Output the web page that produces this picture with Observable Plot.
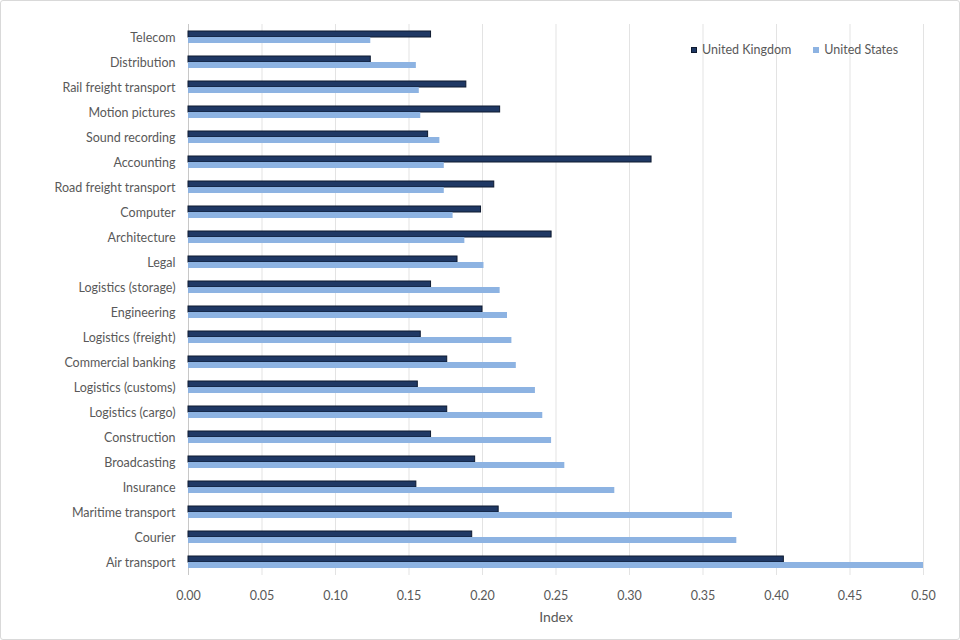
<!DOCTYPE html>
<html>
<head>
<meta charset="utf-8">
<script src="https://cdn.jsdelivr.net/npm/d3@7"></script>
<script src="https://cdn.jsdelivr.net/npm/@observablehq/plot@0.6"></script>
<style>
  html, body { margin: 0; padding: 0; background: #fff; }
  #wrap { position: relative; width: 960px; height: 640px; }
  #frame { position: absolute; left: 0; top: 0; width: 958px; height: 638px; border: 1px solid #d9d9d9; border-radius: 3px; pointer-events: none; }
  #legend { position: absolute; left: 691px; top: 42px; font: 12.5px Lato, "Open Sans", sans-serif; color: #595959; display: flex; gap: 22px; align-items: center; }
  #legend .item { display: flex; align-items: center; gap: 5px; }
  #legend .sw { width: 6px; height: 6px; box-sizing: border-box; }
</style>
</head>
<body>
<div id="wrap"><div id="chart"></div><div id="legend"></div><div id="frame"></div></div>
<script>
const categories = ["Telecom","Distribution","Rail freight transport","Motion pictures","Sound recording","Accounting","Road freight transport","Computer","Architecture","Legal","Logistics (storage)","Engineering","Logistics (freight)","Commercial banking","Logistics (customs)","Logistics (cargo)","Construction","Broadcasting","Insurance","Maritime transport","Courier","Air transport"];
const series = ["United Kingdom","United States"];
const ukValues = [0.165,0.124,0.189,0.212,0.163,0.315,0.208,0.199,0.247,0.183,0.165,0.200,0.158,0.176,0.156,0.176,0.165,0.195,0.155,0.211,0.193,0.405];
const usValues = [0.124,0.155,0.157,0.158,0.171,0.174,0.174,0.180,0.188,0.201,0.212,0.217,0.220,0.223,0.236,0.241,0.247,0.256,0.290,0.370,0.373,0.500];
const xTicks = [0,0.05,0.10,0.15,0.20,0.25,0.30,0.35,0.40,0.45,0.50];
const colors = ["#1f3864","#8db3e2"];
const strokes = ["#0e1a30","#8db3e2"];

const ukData = categories.map((c, i) => ({category: c, series: series[0], value: ukValues[i]}));
const usData = categories.map((c, i) => ({category: c, series: series[1], value: usValues[i]}));

const font = 'Lato, "Open Sans", sans-serif';
const chart = Plot.plot({
  width: 960,
  height: 640,
  marginLeft: 188,
  marginRight: 37,
  marginTop: 24,
  marginBottom: 65,
  style: {fontFamily: font, fontSize: "12.5px", color: "#595959", background: "transparent"},
  x: {domain: [0, 0.5], ticks: xTicks, label: null},
  y: {domain: categories, paddingInner: 0.52, paddingOuter: 0.26, label: null},
  color: {domain: series, range: colors},
  marks: [
    Plot.gridX(xTicks, {stroke: "#e3e3e3", strokeOpacity: 1, strokeWidth: 1}),
    Plot.ruleX([0], {stroke: "#c8c8c8"}),
    Plot.barX(ukData, {y: "category", x: "value", fill: "series", stroke: strokes[0], strokeWidth: 1, insetBottom: 6}),
    Plot.barX(usData, {y: "category", x: "value", fill: "series", insetTop: 6}),
    Plot.axisY({anchor: "left", tickSize: 0, tickPadding: 13, label: null, fontSize: 12.5, fill: "#595959"}),
    Plot.axisX(xTicks, {anchor: "bottom", tickSize: 0, tickPadding: 16, tickFormat: d3.format(".2f"), label: null, fill: "#595959"}),
    Plot.text(["Index"], {frameAnchor: "bottom", lineAnchor: "middle", dy: 42, fontSize: 14, fill: "#595959"})
  ]
});
document.getElementById("chart").appendChild(chart);

const leg = document.getElementById("legend");
series.forEach((s, i) => {
  const it = document.createElement("div");
  it.className = "item";
  const sw = document.createElement("div");
  sw.className = "sw";
  sw.style.background = colors[i];
  sw.style.border = "1px solid " + strokes[i];
  const t = document.createElement("span");
  t.textContent = s;
  it.appendChild(sw); it.appendChild(t);
  leg.appendChild(it);
});
</script>
</body>
</html>
